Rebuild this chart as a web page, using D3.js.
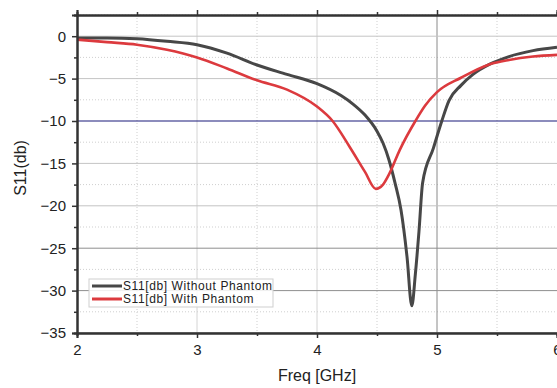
<!DOCTYPE html>
<html>
<head>
<meta charset="utf-8">
<script src="https://cdn.jsdelivr.net/npm/d3@7"></script>
<style>
  body { margin: 0; background: #fff; }
  text { font-family: "Liberation Sans", Arial, sans-serif; }
</style>
</head>
<body>
<script>
// S11 curves
var freqNoPhantom = [2.0, 2.25, 2.5, 2.75, 3.0, 3.25, 3.5, 3.75, 4.0, 4.2, 4.3, 4.4, 4.5, 4.55, 4.6, 4.65, 4.7, 4.75, 4.79, 4.82, 4.85, 4.88, 4.97, 5.04, 5.1, 5.2, 5.3, 5.44, 5.6, 5.8, 6.0];
var s11NoPhantom = [-0.2, -0.2, -0.3, -0.6, -1.0, -2.0, -3.4, -4.5, -5.6, -7.0, -8.0, -9.3, -11.2, -12.6, -14.6, -17.3, -20.5, -26, -31.8, -28, -23, -17.3, -13.2, -10, -7.6, -5.8, -4.5, -3.3, -2.4, -1.7, -1.3];

var freqPhantom = [2.0, 2.25, 2.5, 2.75, 3.0, 3.25, 3.5, 3.75, 4.0, 4.13, 4.27, 4.4, 4.49, 4.55, 4.6, 4.69, 4.82, 4.9, 5.0, 5.2, 5.44, 5.6, 5.8, 6.0];
var s11Phantom = [-0.4, -0.7, -1.0, -1.6, -2.5, -3.8, -5.2, -6.3, -8.3, -10, -13, -16, -18, -17.5, -16.3, -13.4, -10, -8.2, -6.6, -4.9, -3.3, -2.8, -2.4, -2.2];

var xTicks = [2, 3, 4, 5, 6];
var yTicks = [0, -5, -10, -15, -20, -25, -30, -35];
var refLevel = -10;
var legendLabels = ["S11[db] Without Phantom", "S11[db] With Phantom"];

document.addEventListener("DOMContentLoaded", function() {
    var width = 557,
        height = 388,
        margin = {top: 15, right: 0, bottom: 55, left: 77},
        svg = d3.select('body').append('svg').attr('width', width).attr('height', height),
        x = d3.scaleLinear().domain([2, 6]).range([margin.left, width - margin.right]),
        y = d3.scaleLinear().domain([-35, 2.5]).range([height - margin.bottom, margin.top]),
        colors = ['#474747', '#dc3a3e'];

    function halfSteps(a, b) {
        var out = [];
        for (var v = a; v <= b + 1e-9; v += 0.5) out.push(v);
        return out;
    }

    // minor grid (dotted) at the half steps
    var xMinor = halfSteps(2, 6).filter(function(v) { return v % 1 !== 0; }),
        yMinor = halfSteps(-35, 2.5).filter(function(v) { return v % 5 !== 0 && v % 2.5 === 0; });

    svg.append('g').selectAll('line').data(xMinor).enter().append('line')
        .attr('x1', x).attr('x2', x).attr('y1', y(2.5)).attr('y2', y(-35))
        .attr('stroke', '#cfcfcf').attr('stroke-dasharray', '1,2');
    svg.append('g').selectAll('line').data(yMinor).enter().append('line')
        .attr('x1', x(2)).attr('x2', x(6)).attr('y1', y).attr('y2', y)
        .attr('stroke', '#cfcfcf').attr('stroke-dasharray', '1,2');

    // major grid
    svg.append('g').selectAll('line').data(xTicks.slice(1, -1)).enter().append('line')
        .attr('x1', x).attr('x2', x).attr('y1', y(2.5)).attr('y2', y(-35))
        .attr('stroke', function(d) { return d === 5 ? '#8a8a8a' : '#d4d4d4'; });
    svg.append('g').selectAll('line').data(yTicks.filter(function(d) { return d !== refLevel; })).enter().append('line')
        .attr('x1', x(2)).attr('x2', x(6)).attr('y1', y).attr('y2', y)
        .attr('stroke', function(d) { return d <= -25 ? '#8f8f8f' : '#c4c4c4'; });

    // -10 dB reference
    svg.append('line')
        .attr('x1', x(2)).attr('x2', x(6)).attr('y1', y(refLevel)).attr('y2', y(refLevel))
        .attr('stroke', '#1b1b7a').attr('stroke-width', 1.2);

    // curves
    var line = d3.line()
        .x(function(d) { return x(d[0]); })
        .y(function(d) { return y(d[1]); })
        .curve(d3.curveMonotoneX);

    var series = [
        d3.zip(freqNoPhantom, s11NoPhantom),
        d3.zip(freqPhantom, s11Phantom)
    ];

    svg.append('g').selectAll('path').data(series).enter().append('path')
        .attr('d', line)
        .attr('fill', 'none')
        .attr('stroke', function(d, i) { return colors[i]; })
        .attr('stroke-width', function(d, i) { return i === 0 ? 3 : 2.6; })
        .attr('stroke-linejoin', 'round');

    // axes
    var bottom = svg.append('g')
        .attr('transform', 'translate(0,' + y(-35) + ')')
        .call(d3.axisBottom(x).tickValues(xTicks).tickSize(5).tickPadding(6).tickFormat(d3.format('d')));

    var bottomMinor = svg.append('g')
        .attr('transform', 'translate(0,' + y(-35) + ')')
        .call(d3.axisBottom(x).tickValues(xMinor).tickSize(3).tickFormat(''));

    var left = svg.append('g')
        .attr('transform', 'translate(' + x(2) + ',0)')
        .call(d3.axisLeft(y).tickValues(yTicks).tickSize(5).tickPadding(6).tickFormat(function(d) { return d < 0 ? '\u2212' + Math.abs(d) : d; }));

    var leftMinor = svg.append('g')
        .attr('transform', 'translate(' + x(2) + ',0)')
        .call(d3.axisLeft(y).tickValues(yTicks.map(function(d) { return d - 2.5; }).filter(function(d) { return d >= -35; }).concat([2.5])).tickSize(3).tickFormat(''));

    var top = svg.append('g')
        .attr('transform', 'translate(0,' + y(2.5) + ')')
        .call(d3.axisTop(x).tickValues(xTicks).tickSize(5).tickFormat(''));
    var topMinor = svg.append('g')
        .attr('transform', 'translate(0,' + y(2.5) + ')')
        .call(d3.axisTop(x).tickValues(xMinor).tickSize(3).tickFormat(''));

    [bottom, bottomMinor, left, leftMinor, top, topMinor].forEach(function(g) {
        g.select('.domain').attr('stroke', '#333').attr('stroke-width', 2);
        g.selectAll('.tick line').attr('stroke', '#333').attr('stroke-width', 1.5);
        g.selectAll('.tick text').attr('fill', '#222').style('font-size', '15px')
            .style('font-family', '"Liberation Sans", Arial, sans-serif');
    });

    // axis titles
    svg.append('text')
        .attr('x', x(4)).attr('y', 381)
        .attr('text-anchor', 'middle')
        .style('font-size', '16px').attr('fill', '#222')
        .text('Freq [GHz]');

    svg.append('text')
        .attr('transform', 'translate(26,168) rotate(-90)')
        .attr('text-anchor', 'middle')
        .style('font-size', '16px').attr('fill', '#222')
        .text('S11(db)');

    // legend
    var legend = svg.append('g').attr('transform', 'translate(89,279)');
    legend.append('rect')
        .attr('width', 184).attr('height', 28)
        .attr('fill', 'rgba(255,255,255,0.85)').attr('stroke', '#cfcfcf');

    var items = legend.selectAll('g.item').data(legendLabels).enter().append('g')
        .attr('transform', function(d, i) { return 'translate(0,' + (7 + i * 13) + ')'; });
    items.append('line')
        .attr('x1', 3).attr('x2', 33)
        .attr('stroke', function(d, i) { return colors[i]; })
        .attr('stroke-width', 3);
    items.append('text')
        .attr('x', 34).attr('dy', '0.35em')
        .style('font-size', '12px').style('letter-spacing', '0.6px').attr('fill', '#222')
        .text(function(d) { return d; });
});
</script>
</body>
</html>
